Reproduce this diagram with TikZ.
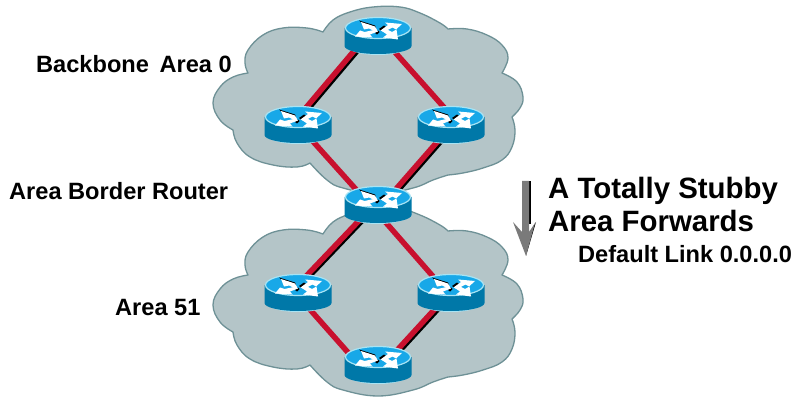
\documentclass[tikz,border=0pt]{standalone}
\usepackage{fontspec}
\setmainfont{Liberation Sans}
\usetikzlibrary{calc}
\definecolor{cloudfill}{HTML}{B4C5C8}
\definecolor{cloudline}{HTML}{6E9196}
\definecolor{linkred}{HTML}{C8102E}
\definecolor{rtop}{HTML}{18A8E8}
\definecolor{rrim}{HTML}{A8E4F4}
\definecolor{rbody}{HTML}{0078A8}
\tikzset{
  x=1pt,y=-1pt,
  routerbox/.style={inner sep=0pt,minimum width=66pt,minimum height=37pt},
  cloudshape/.style={fill=cloudfill,draw=cloudline,line width=1.3pt,line join=round},
  redlink/.style={draw=linkred,line width=5.5pt},
  blacklink/.style={draw=black,line width=5.5pt},
  lab/.style={font=\bfseries\fontsize{23.6}{26}\selectfont,anchor=west,inner sep=0pt},
  biglab/.style={font=\bfseries\fontsize{29.4}{32}\selectfont,anchor=west,inner sep=0pt},
  arrowwhite/.style={fill=white,draw=none},
}
\newcommand{\cloudpath}{
  plot[smooth,tension=.7] coordinates {(323,32)(333,20)(350,12)(373,7)(400,7)(420,13)(440,23)(448,29)}
  -- plot[smooth,tension=.7] coordinates {(448,29)(467,29)(487,35)(502,45)(508,58)(502,73)}
  -- plot[smooth,tension=.7] coordinates {(502,73)(517,82)(523,97)(520,108)(512,117)}
  -- plot[smooth,tension=.7] coordinates {(512,117)(515,130)(512,147)(502,160)(483,168)(463,173)(448,175)}
  -- plot[smooth,tension=.7] coordinates {(448,175)(433,180)(413,188)(378,194)(343,188)(327,180)(310,163)}
  -- plot[smooth,tension=.7] coordinates {(310,163)(297,167)(273,165)(250,157)(237,143)(233,130)}
  -- plot[smooth,tension=.7] coordinates {(233,130)(220,120)(213,103)(220,87)(233,77)(248,73)}
  -- plot[smooth,tension=.7] coordinates {(248,73)(245,63)(248,50)(263,35)(283,28)(307,28)(323,32)}
  -- cycle
}
\newcommand{\routerart}[1]{
  \begin{scope}[shift={(#1)}]
    \fill[rrim] (-32,9) arc[x radius=32,y radius=10,start angle=180,end angle=0] -- cycle;
    \fill[rbody] (-33.5,-8) -- (-33.5,10) arc[x radius=33.5,y radius=8,start angle=180,end angle=0] -- (33.5,-8) -- cycle;
    \fill[rtop,draw=rrim,line width=1.2pt] (0,-8) ellipse[x radius=32.5,y radius=10.5];
    % arrows: shadows
    \fill[black] (-19,-15.5) -- (-3,-10.5) -- (-2,-8) -- (-14,-11) -- cycle;
    \fill[black] (1,-7) -- (6,-10.5) -- (8,-9) -- (3,-5.5) -- cycle;
    \fill[black] (-3,-3) -- (0,-5.5) -- (1.5,-4) -- (-1,-1.5) -- cycle;
    % arrows: white
    \fill[arrowwhite] (-17,-14) -- (-3,-9.5) -- (-1,-6) -- (-5,-5.5) -- (-9,-7.5) -- (-14,-6.5) -- cycle;
    \fill[arrowwhite] (2.5,-5.5) -- (10,-11) -- (7,-13.5) -- (24,-12) -- (18,-6.5) -- (14.5,-8.5) -- (6,-4) -- cycle;
    \fill[arrowwhite] (-23,0.5) -- (-18,-5.5) -- (-13.5,-4) -- (-2,-6.5) -- (0,-4.5) -- (-8,-1.5) -- (-5.5,1.5) -- cycle;
    \fill[arrowwhite] (3,-5.5) -- (8,-7) -- (14,-4) -- (18.5,-6.5) -- (20,3.5) -- (5,1.5) -- (9,-1.5) -- cycle;
  \end{scope}
}
\begin{document}
\begin{tikzpicture}
  \useasboundingbox (0,0) rectangle (798,398);
  % clouds
  \path[cloudshape] \cloudpath;
  \begin{scope}[yshift=-202pt]
    \path[cloudshape] \cloudpath;
  \end{scope}
  % router anchors
  \node[routerbox] (rt) at (378,36) {};
  \node[routerbox] (rl) at (298,125) {};
  \node[routerbox] (rr) at (451,125) {};
  \node[routerbox] (abr) at (378,205) {};
  \node[routerbox] (al) at (298,293) {};
  \node[routerbox] (ar) at (451,293) {};
  \node[routerbox] (ab) at (378,365) {};
  % links with shadow
  \draw[blacklink] ($(rl)+(6.5,-12)$) -- ($(rt)+(-18.5,12)$);
  \draw[redlink] ($(rl)+(3.5,-12)$) -- ($(rt)+(-21.5,12)$);
  \draw[redlink] ($(rt)+(15,14)$) -- ($(rr)+(-2,-12)$);
  \draw[redlink] ($(rl)+(11,12)$) -- ($(abr)+(-17,-10)$);
  \draw[blacklink] ($(rr)+(-6.5,12)$) -- ($(abr)+(17.5,-12)$);
  \draw[redlink] ($(rr)+(-9.5,12)$) -- ($(abr)+(14.5,-12)$);
  \draw[blacklink] ($(abr)+(-12.5,12)$) -- ($(al)+(6.5,-12)$);
  \draw[redlink] ($(abr)+(-15.5,12)$) -- ($(al)+(3.5,-12)$);
  \draw[redlink] ($(abr)+(3,12)$) -- ($(ar)+(-14,-12)$);
  \draw[redlink] ($(al)+(8,12)$) -- ($(ab)+(-26,-8)$);
  \draw[blacklink] ($(ar)+(-9.5,12)$) -- ($(ab)+(19.5,-12)$);
  \draw[redlink] ($(ar)+(-12.5,12)$) -- ($(ab)+(16.5,-12)$);
  % routers
  \routerart{rt}\routerart{rl}\routerart{rr}\routerart{abr}\routerart{al}\routerart{ar}\routerart{ab}
  % arrow
  \fill[black] (529,181) -- (531,181) -- (531,224) -- (529,224) -- cycle;
  \fill[black] (526,256) -- (536,222) -- (530,232) -- cycle;
  \fill[black!52] (522,181) -- (529,181) -- (529,232) -- (535,223) -- (526,256) -- (513,222) -- (522,232) -- cycle;
  % labels
  \node[lab] (l1) at (36,64) {Backbone\hspace{4pt} Area 0};
  \node[lab] (l2) at (9,191) {Area Border Router};
  \node[lab] (l3) at (115,307) {Area 51};
  \node[biglab] (l4) at (548,191) {A Totally Stubby};
  \node[biglab] (l5) at (548,221) {Area Forwards};
  \node[lab] (l6) at (578,254) {Default Link 0.0.0.0};
\end{tikzpicture}
\end{document}
